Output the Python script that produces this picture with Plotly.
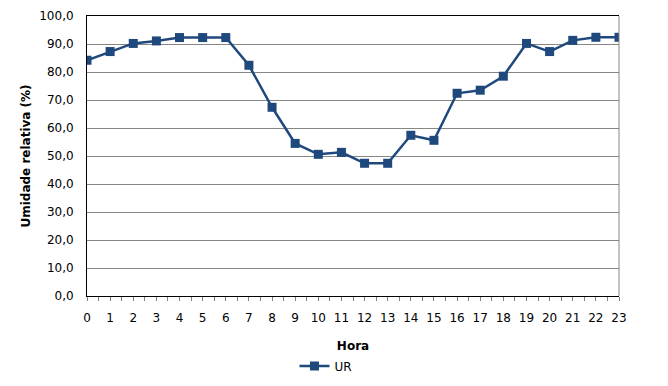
import plotly.graph_objects as go

horas = list(range(24))
hora_labels = [str(h) for h in horas]
ur = [84.2, 87.3, 90.2, 91.1, 92.3, 92.3, 92.3, 82.4, 67.4, 54.5, 50.6, 51.3,
      47.4, 47.4, 57.4, 55.6, 72.4, 73.5, 78.5, 90.2, 87.3, 91.3, 92.4, 92.4]
y_ticks = [0, 10, 20, 30, 40, 50, 60, 70, 80, 90, 100]

color = "#1F497D"
font = "DejaVu Sans"

fig = go.Figure()
fig.add_trace(go.Scatter(
    x=horas, y=ur, mode="lines+markers", name="UR",
    line=dict(color=color, width=2.5),
    marker=dict(symbol="square", size=9, color=color),
))

fig.update_layout(
    width=660, height=378,
    margin=dict(l=79, r=49, t=8, b=90, autoexpand=False),
    paper_bgcolor="white", plot_bgcolor="white",
    font=dict(family=font, size=12, color="#000000"),
    separators=",.",
    showlegend=True,
    legend=dict(orientation="h", x=0.39, y=-0.25, xanchor="left", yanchor="middle",
                font=dict(family=font, size=12), itemwidth=30),
    xaxis=dict(
        range=[0, 23], tickmode="array", tickvals=horas, ticktext=hora_labels,
        showgrid=False, showline=True, linecolor="#000000", linewidth=1, mirror=True,
        ticks="outside", ticklen=4, tickcolor="#808080", ticklabelstandoff=7,
        minor=dict(dtick=0.5, tick0=0, ticks="outside", ticklen=4, tickcolor="#808080", showgrid=False),
        tickfont=dict(family=font, size=12),
        title=dict(text="<b>Hora</b>", font=dict(family=font, size=12), standoff=17),
        zeroline=False, automargin=False,
    ),
    yaxis=dict(
        range=[0, 100], tickmode="array", tickvals=y_ticks, tickformat=".1f",
        showgrid=True, gridcolor="#868686", gridwidth=1,
        showline=True, linecolor="#000000", linewidth=1,
        ticks="", tickfont=dict(family=font, size=12), ticklabelstandoff=10,
        title=dict(text="<b>Umidade relativa (%)</b>", font=dict(family=font, size=12), standoff=6),
        zeroline=False, automargin=False,
    ),
)
fig.add_shape(type="line", xref="paper", yref="paper", x0=1, x1=1, y0=0, y1=1,
              line=dict(color="#868686", width=1))

fig.write_html("out.html")
